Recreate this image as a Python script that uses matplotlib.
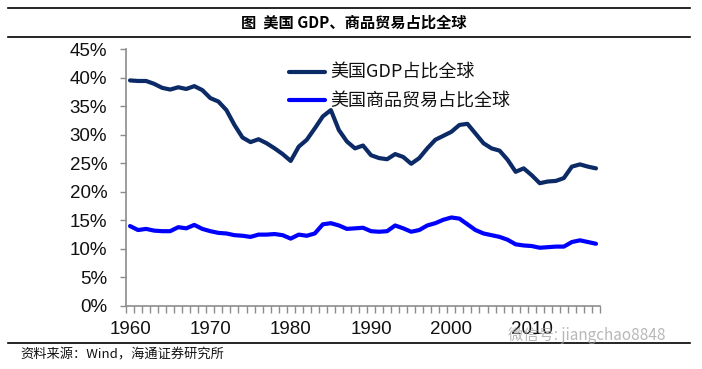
import numpy as np
import matplotlib
matplotlib.use('Agg')
import matplotlib.pyplot as plt
from matplotlib.lines import Line2D
from matplotlib.ticker import FuncFormatter, MultipleLocator

plt.rcParams['font.family'] = ['Liberation Sans', 'Noto Sans CJK SC', 'DejaVu Sans']

anos = list(range(1960, 2019))

# 美国GDP占比全球 (%)
gdp = [39.5, 39.4, 39.4, 38.9, 38.2, 37.9, 38.3, 38.0, 38.5, 37.8,
       36.4, 35.8, 34.3, 31.7, 29.5, 28.7, 29.2, 28.5, 27.6, 26.6,
       25.4, 27.9, 29.1, 31.1, 33.2, 34.3, 30.8, 28.8, 27.6, 28.1,
       26.4, 25.9, 25.7, 26.6, 26.1, 24.9, 25.9, 27.6, 29.1, 29.8,
       30.5, 31.7, 31.9, 30.2, 28.5, 27.6, 27.2, 25.6, 23.5, 24.1,
       22.9, 21.5, 21.8, 21.9, 22.4, 24.4, 24.8, 24.4, 24.1]

# 美国商品贸易占比全球 (%)
comercio = [14.0, 13.3, 13.5, 13.2, 13.1, 13.1, 13.8, 13.6, 14.2, 13.5,
            13.1, 12.8, 12.7, 12.4, 12.3, 12.1, 12.5, 12.5, 12.6, 12.4,
            11.8, 12.5, 12.3, 12.7, 14.3, 14.5, 14.1, 13.5, 13.6, 13.7,
            13.1, 13.0, 13.1, 14.1, 13.6, 13.0, 13.3, 14.1, 14.5, 15.1,
            15.5, 15.3, 14.3, 13.3, 12.7, 12.4, 12.1, 11.6, 10.8, 10.6,
            10.5, 10.2, 10.3, 10.4, 10.4, 11.2, 11.5, 11.2, 10.9]

rotulos_x = [1960, 1970, 1980, 1990, 2000, 2010]

cinza = '#8C8C8C'

fig = plt.figure(figsize=(7.02, 3.69), dpi=100)
ax = fig.add_axes([126 / 702, 1 - 306 / 369, 474 / 702, 257 / 369])

ax.plot(anos, gdp, color='#0B2A66', linewidth=3, solid_joinstyle='round',
        solid_capstyle='round', label='美国GDP占比全球')
ax.plot(anos, comercio, color='#0000FF', linewidth=3, solid_joinstyle='round',
        solid_capstyle='round', label='美国商品贸易占比全球')

ax.set_ylim(0, 45)
ax.set_xlim(1959.5, 2018.5)
ax.yaxis.set_major_locator(MultipleLocator(5))
ax.yaxis.set_major_formatter(FuncFormatter(lambda v, p: f'{v:.0f}%'))
ax.set_xticks(rotulos_x)
ax.set_xticklabels([str(a) for a in rotulos_x])
ax.set_xticks(np.arange(1959.5, 2019, 1), minor=True)

ax.tick_params(axis='y', length=4.5, width=1, color=cinza, labelsize=13.5,
               pad=9, labelcolor='#111111')
ax.tick_params(axis='x', which='major', length=0, labelsize=13.5, pad=11,
               labelcolor='#111111')
ax.tick_params(axis='x', which='minor', length=5, width=1, color=cinza)

for lado in ['top', 'right']:
    ax.spines[lado].set_visible(False)
for lado in ['left', 'bottom']:
    ax.spines[lado].set_color(cinza)
    ax.spines[lado].set_linewidth(1.2)

leg = ax.legend(loc='upper left', bbox_to_anchor=(0.31, 1.005), frameon=False,
                prop={'family': ['Noto Sans CJK SC'], 'size': 13},
                handlelength=2.0, handletextpad=0.3, labelspacing=0.6)
for t in leg.get_texts():
    t.set_color('#111111')

# linhas horizontais da moldura
for y in [1 - 8 / 369, 1 - 37 / 369, 1 - 342.5 / 369]:
    fig.add_artist(Line2D([8 / 702, 690 / 702], [y, y], color='black', linewidth=1.2,
                          transform=fig.transFigure))

fig.text(354 / 702, 1 - 22.5 / 369, '图  美国 GDP、商品贸易占比全球', ha='center', va='center',
         fontsize=11, fontweight='bold', family=['Noto Sans CJK SC', 'DejaVu Sans'])

fig.text(20 / 702, 1 - 355 / 369, '资料来源：Wind，海通证券研究所', ha='left', va='center',
         fontsize=9.5, family=['Noto Sans CJK SC', 'DejaVu Sans'], color='#111111')

fig.text(508 / 702, 1 - 336 / 369, '微信号: jiangchao8848', ha='left', va='center',
         fontsize=11, family=['Noto Sans CJK SC', 'DejaVu Sans'], color='#A0A0A0', alpha=0.75)

fig.savefig('out.png', dpi=100)
